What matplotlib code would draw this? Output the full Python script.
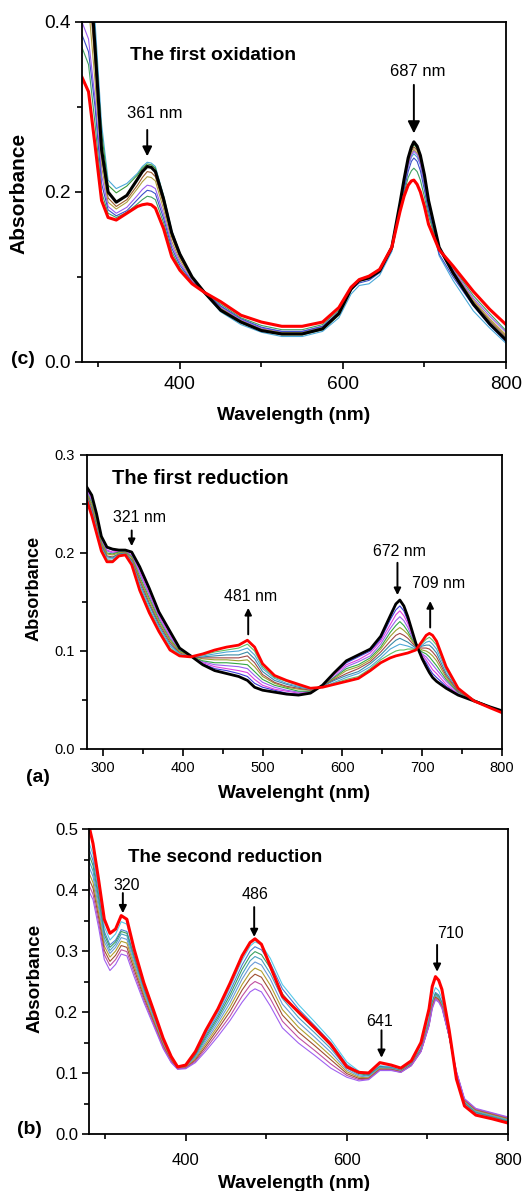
import matplotlib
matplotlib.use('Agg')
import matplotlib.pyplot as plt
from matplotlib.ticker import MultipleLocator, FormatStrFormatter

plt.rcParams['font.family'] = ['Liberation Sans', 'DejaVu Sans']

# ---------------- panel (c): the first oxidation ----------------
wl_ox = [280, 288, 296, 304, 312, 322, 335, 348, 354, 360, 365, 370, 380, 390, 400, 415, 430, 450, 475, 500,
         525, 550, 575, 595, 610, 620, 632, 645, 660, 670, 675, 680, 684, 687, 691, 695, 700, 705, 718, 735,
         760, 780, 800]
ox_black = [0.62, 0.48, 0.37, 0.25, 0.200, 0.188, 0.196, 0.215, 0.224, 0.230, 0.229, 0.224, 0.192, 0.152,
            0.127, 0.100, 0.082, 0.061, 0.047, 0.037, 0.033, 0.033, 0.039, 0.057, 0.086, 0.096, 0.099, 0.107,
            0.135, 0.187, 0.215, 0.240, 0.253, 0.259, 0.254, 0.243, 0.220, 0.190, 0.135, 0.105, 0.068, 0.045,
            0.026]
ox_red = [0.335, 0.318, 0.255, 0.190, 0.170, 0.167, 0.175, 0.183, 0.185, 0.186, 0.185, 0.181, 0.157, 0.124,
          0.108, 0.092, 0.082, 0.071, 0.055, 0.047, 0.042, 0.042, 0.047, 0.064, 0.088, 0.097, 0.101, 0.109,
          0.135, 0.177, 0.195, 0.208, 0.213, 0.214, 0.209, 0.200, 0.183, 0.162, 0.132, 0.113, 0.083, 0.062,
          0.044]
ox_c1 = [0.60, 0.50, 0.40, 0.28, 0.214, 0.204, 0.210, 0.222, 0.230, 0.235, 0.234, 0.230, 0.196, 0.155, 0.128,
         0.099, 0.081, 0.059, 0.044, 0.035, 0.030, 0.030, 0.036, 0.052, 0.080, 0.090, 0.092, 0.102, 0.130,
         0.180, 0.206, 0.230, 0.241, 0.245, 0.241, 0.232, 0.208, 0.180, 0.125, 0.096, 0.060, 0.040, 0.022]
ox_c2 = [0.56, 0.48, 0.38, 0.27, 0.208, 0.199, 0.207, 0.220, 0.228, 0.233, 0.232, 0.228, 0.195, 0.154, 0.128,
         0.100, 0.082, 0.060, 0.046, 0.037, 0.032, 0.032, 0.038, 0.055, 0.084, 0.095, 0.098, 0.106, 0.134,
         0.185, 0.212, 0.237, 0.250, 0.256, 0.251, 0.240, 0.215, 0.188, 0.133, 0.104, 0.067, 0.045, 0.027]
ox_c3 = [0.50, 0.45, 0.35, 0.24, 0.193, 0.183, 0.191, 0.208, 0.217, 0.224, 0.223, 0.218, 0.186, 0.147, 0.123,
         0.098, 0.083, 0.063, 0.048, 0.038, 0.034, 0.034, 0.040, 0.057, 0.086, 0.096, 0.099, 0.107, 0.135,
         0.185, 0.211, 0.235, 0.248, 0.253, 0.249, 0.238, 0.214, 0.188, 0.134, 0.107, 0.071, 0.049, 0.030]
ox_c4 = [0.46, 0.42, 0.33, 0.23, 0.188, 0.180, 0.188, 0.204, 0.212, 0.218, 0.217, 0.213, 0.180, 0.142, 0.120,
         0.097, 0.083, 0.064, 0.049, 0.039, 0.035, 0.035, 0.041, 0.058, 0.086, 0.096, 0.099, 0.107, 0.135,
         0.183, 0.208, 0.232, 0.245, 0.250, 0.246, 0.235, 0.211, 0.186, 0.134, 0.108, 0.073, 0.051, 0.032]
ox_c5 = [0.40, 0.38, 0.31, 0.22, 0.183, 0.175, 0.182, 0.196, 0.203, 0.208, 0.207, 0.204, 0.174, 0.138, 0.117,
         0.095, 0.083, 0.065, 0.050, 0.040, 0.036, 0.036, 0.042, 0.059, 0.087, 0.097, 0.100, 0.108, 0.135,
         0.182, 0.207, 0.230, 0.243, 0.248, 0.244, 0.233, 0.209, 0.184, 0.133, 0.109, 0.075, 0.054, 0.035]
ox_c6 = [0.385, 0.365, 0.30, 0.21, 0.179, 0.172, 0.178, 0.191, 0.197, 0.202, 0.201, 0.198, 0.169, 0.134, 0.114,
         0.094, 0.083, 0.066, 0.051, 0.041, 0.036, 0.036, 0.042, 0.058, 0.085, 0.093, 0.096, 0.105, 0.132,
         0.178, 0.202, 0.224, 0.236, 0.240, 0.236, 0.225, 0.202, 0.177, 0.127, 0.100, 0.066, 0.043, 0.024]
ox_c7 = [0.37, 0.35, 0.28, 0.20, 0.175, 0.170, 0.176, 0.186, 0.191, 0.195, 0.194, 0.191, 0.164, 0.130, 0.111,
         0.093, 0.083, 0.068, 0.052, 0.043, 0.038, 0.038, 0.044, 0.061, 0.087, 0.097, 0.100, 0.108, 0.135,
         0.180, 0.199, 0.217, 0.225, 0.228, 0.224, 0.214, 0.194, 0.172, 0.132, 0.111, 0.078, 0.057, 0.037]
ox_thin = [ox_c1, ox_c2, ox_c3, ox_c4, ox_c5, ox_c6, ox_c7]
ox_colors = ['#4aa8d8', '#3a9a3a', '#9a5a2a', '#b0a040', '#9a5cf0', '#3b4fc8', '#40a060']

# ---------------- panel (a): the first reduction ----------------
wl_r1 = [280, 286, 292, 298, 305, 312, 320, 328, 336, 346, 358, 370, 384, 396, 410, 425, 440, 455, 470, 481,
         490, 500, 515, 530, 545, 560, 575, 590, 605, 620, 635, 648, 660, 667, 672, 677, 682, 692, 700, 705,
         709, 713, 718, 730, 745, 765, 785, 800]
r1_black = [0.267, 0.259, 0.240, 0.217, 0.206, 0.204, 0.203, 0.203, 0.201, 0.186, 0.164, 0.140, 0.120, 0.103,
            0.095, 0.086, 0.080, 0.077, 0.074, 0.070, 0.063, 0.060, 0.058, 0.056, 0.055, 0.057, 0.065, 0.078,
            0.090, 0.096, 0.102, 0.115, 0.136, 0.148, 0.152, 0.146, 0.135, 0.108, 0.092, 0.084, 0.078, 0.073,
            0.069, 0.062, 0.055, 0.049, 0.043, 0.039]
r1_red = [0.253, 0.238, 0.220, 0.202, 0.191, 0.191, 0.197, 0.198, 0.188, 0.162, 0.139, 0.120, 0.101, 0.095,
          0.094, 0.097, 0.101, 0.104, 0.106, 0.111, 0.104, 0.087, 0.075, 0.070, 0.066, 0.062, 0.063, 0.066,
          0.069, 0.072, 0.080, 0.088, 0.093, 0.095, 0.096, 0.097, 0.098, 0.101, 0.110, 0.116, 0.118, 0.116,
          0.110, 0.084, 0.062, 0.049, 0.042, 0.037]
r1_t1 = [0.266, 0.257, 0.238, 0.216, 0.205, 0.203, 0.202, 0.203, 0.200, 0.184, 0.162, 0.138, 0.118, 0.102,
         0.095, 0.087, 0.082, 0.080, 0.077, 0.074, 0.067, 0.063, 0.060, 0.057, 0.056, 0.058, 0.065, 0.077,
         0.088, 0.094, 0.100, 0.112, 0.132, 0.142, 0.146, 0.141, 0.131, 0.107, 0.094, 0.088, 0.082, 0.077,
         0.073, 0.064, 0.056, 0.049, 0.043, 0.039]
r1_t2 = [0.264, 0.255, 0.236, 0.214, 0.203, 0.201, 0.202, 0.202, 0.198, 0.181, 0.159, 0.136, 0.116, 0.101,
         0.095, 0.088, 0.084, 0.082, 0.080, 0.078, 0.071, 0.065, 0.061, 0.059, 0.057, 0.058, 0.065, 0.076,
         0.086, 0.091, 0.098, 0.110, 0.127, 0.137, 0.141, 0.136, 0.128, 0.107, 0.096, 0.091, 0.086, 0.081,
         0.077, 0.066, 0.056, 0.049, 0.043, 0.039]
r1_t3 = [0.263, 0.253, 0.234, 0.213, 0.202, 0.200, 0.201, 0.202, 0.197, 0.179, 0.157, 0.134, 0.114, 0.101,
         0.095, 0.089, 0.086, 0.085, 0.084, 0.082, 0.075, 0.068, 0.063, 0.060, 0.058, 0.059, 0.064, 0.074,
         0.084, 0.089, 0.095, 0.107, 0.123, 0.131, 0.135, 0.131, 0.124, 0.106, 0.097, 0.094, 0.090, 0.086,
         0.081, 0.069, 0.057, 0.049, 0.043, 0.039]
r1_t4 = [0.261, 0.251, 0.232, 0.211, 0.200, 0.199, 0.201, 0.201, 0.196, 0.176, 0.154, 0.132, 0.112, 0.100,
         0.095, 0.090, 0.088, 0.088, 0.087, 0.086, 0.079, 0.071, 0.065, 0.062, 0.059, 0.059, 0.064, 0.073,
         0.082, 0.086, 0.093, 0.104, 0.119, 0.126, 0.130, 0.126, 0.120, 0.105, 0.099, 0.097, 0.094, 0.090,
         0.085, 0.071, 0.058, 0.050, 0.043, 0.038]
r1_t5 = [0.260, 0.249, 0.230, 0.210, 0.199, 0.198, 0.200, 0.201, 0.195, 0.174, 0.152, 0.130, 0.111, 0.099,
         0.095, 0.092, 0.091, 0.091, 0.090, 0.091, 0.084, 0.074, 0.067, 0.063, 0.061, 0.060, 0.064, 0.072,
         0.080, 0.084, 0.091, 0.102, 0.115, 0.121, 0.124, 0.121, 0.117, 0.105, 0.101, 0.100, 0.098, 0.095,
         0.090, 0.073, 0.059, 0.050, 0.043, 0.038]
r1_t6 = [0.259, 0.246, 0.228, 0.208, 0.197, 0.196, 0.199, 0.200, 0.193, 0.172, 0.149, 0.128, 0.109, 0.098,
         0.094, 0.093, 0.093, 0.093, 0.093, 0.095, 0.088, 0.076, 0.068, 0.064, 0.062, 0.060, 0.064, 0.071,
         0.077, 0.082, 0.089, 0.099, 0.110, 0.116, 0.118, 0.116, 0.113, 0.104, 0.103, 0.103, 0.102, 0.099,
         0.094, 0.075, 0.059, 0.050, 0.043, 0.038]
r1_t7 = [0.257, 0.244, 0.226, 0.207, 0.196, 0.195, 0.199, 0.200, 0.192, 0.169, 0.147, 0.126, 0.107, 0.097,
         0.094, 0.094, 0.095, 0.096, 0.096, 0.099, 0.092, 0.079, 0.070, 0.066, 0.063, 0.061, 0.064, 0.070,
         0.075, 0.079, 0.087, 0.096, 0.106, 0.111, 0.113, 0.111, 0.109, 0.103, 0.105, 0.106, 0.106, 0.103,
         0.098, 0.077, 0.060, 0.050, 0.043, 0.038]
r1_t8 = [0.256, 0.242, 0.224, 0.205, 0.194, 0.194, 0.198, 0.199, 0.191, 0.167, 0.144, 0.124, 0.105, 0.097,
         0.094, 0.095, 0.097, 0.099, 0.100, 0.103, 0.096, 0.082, 0.072, 0.067, 0.064, 0.061, 0.063, 0.068,
         0.073, 0.077, 0.084, 0.093, 0.102, 0.105, 0.107, 0.106, 0.105, 0.102, 0.106, 0.109, 0.110, 0.107,
         0.102, 0.080, 0.061, 0.050, 0.043, 0.038]
r1_t9 = [0.254, 0.240, 0.222, 0.204, 0.193, 0.192, 0.198, 0.199, 0.189, 0.164, 0.142, 0.122, 0.103, 0.096,
         0.094, 0.096, 0.099, 0.101, 0.103, 0.107, 0.100, 0.084, 0.073, 0.069, 0.065, 0.062, 0.063, 0.067,
         0.071, 0.074, 0.082, 0.091, 0.097, 0.100, 0.101, 0.101, 0.102, 0.102, 0.108, 0.112, 0.114, 0.111,
         0.106, 0.082, 0.061, 0.050, 0.043, 0.037]
r1_thin = [r1_t1, r1_t2, r1_t3, r1_t4, r1_t5, r1_t6, r1_t7, r1_t8, r1_t9]
r1_colors = ['#3a3ad8', '#e040e0', '#9a60f0', '#33a844', '#a0a030', '#a04848', '#3a8aa8', '#50a8d8', '#60c060']

# ---------------- panel (b): the second reduction ----------------
wl_r2 = [280, 285, 292, 299, 306, 313, 320, 327, 336, 348, 360, 372, 382, 390, 400, 412, 425, 440, 455, 470,
         480, 486, 494, 505, 520, 540, 560, 580, 600, 615, 627, 641, 655, 667, 680, 692, 702, 706, 710, 714,
         718, 727, 736, 746, 760, 780, 800]
r2_red = [0.505, 0.476, 0.416, 0.352, 0.329, 0.336, 0.358, 0.352, 0.303, 0.248, 0.203, 0.157, 0.127, 0.110,
          0.113, 0.135, 0.170, 0.205, 0.247, 0.292, 0.314, 0.320, 0.311, 0.275, 0.226, 0.200, 0.174, 0.147,
          0.110, 0.101, 0.100, 0.117, 0.113, 0.108, 0.120, 0.150, 0.205, 0.242, 0.258, 0.252, 0.237, 0.170,
          0.090, 0.046, 0.031, 0.025, 0.018]
r2_s1 = [0.478, 0.458, 0.400, 0.340, 0.318, 0.328, 0.348, 0.344, 0.298, 0.244, 0.199, 0.154, 0.125, 0.109,
         0.111, 0.132, 0.165, 0.199, 0.240, 0.285, 0.308, 0.315, 0.310, 0.288, 0.245, 0.212, 0.184, 0.155,
         0.118, 0.103, 0.098, 0.112, 0.110, 0.105, 0.117, 0.143, 0.192, 0.225, 0.240, 0.235, 0.222, 0.163,
         0.095, 0.050, 0.034, 0.027, 0.020]
r2_s2 = [0.468, 0.448, 0.392, 0.332, 0.310, 0.318, 0.335, 0.332, 0.292, 0.240, 0.196, 0.152, 0.124, 0.109,
         0.111, 0.130, 0.162, 0.195, 0.234, 0.277, 0.300, 0.307, 0.302, 0.280, 0.238, 0.205, 0.178, 0.150,
         0.114, 0.101, 0.097, 0.111, 0.109, 0.104, 0.116, 0.140, 0.186, 0.217, 0.232, 0.228, 0.216, 0.160,
         0.096, 0.051, 0.035, 0.028, 0.021]
r2_s3 = [0.458, 0.440, 0.385, 0.327, 0.306, 0.315, 0.332, 0.329, 0.289, 0.238, 0.194, 0.151, 0.123, 0.108,
         0.110, 0.129, 0.159, 0.191, 0.228, 0.270, 0.292, 0.299, 0.294, 0.272, 0.230, 0.198, 0.172, 0.145,
         0.111, 0.099, 0.096, 0.110, 0.108, 0.104, 0.115, 0.139, 0.184, 0.215, 0.230, 0.226, 0.214, 0.160,
         0.097, 0.052, 0.036, 0.029, 0.022]
r2_s4 = [0.448, 0.431, 0.378, 0.321, 0.301, 0.311, 0.328, 0.325, 0.286, 0.235, 0.192, 0.150, 0.122, 0.108,
         0.110, 0.127, 0.156, 0.187, 0.222, 0.262, 0.284, 0.291, 0.286, 0.263, 0.222, 0.191, 0.166, 0.140,
         0.108, 0.097, 0.095, 0.109, 0.108, 0.103, 0.114, 0.138, 0.183, 0.213, 0.228, 0.224, 0.213, 0.160,
         0.098, 0.053, 0.037, 0.030, 0.023]
r2_s5 = [0.438, 0.422, 0.370, 0.315, 0.296, 0.306, 0.322, 0.319, 0.281, 0.232, 0.190, 0.148, 0.121, 0.108,
         0.109, 0.125, 0.152, 0.182, 0.215, 0.254, 0.275, 0.282, 0.277, 0.254, 0.213, 0.183, 0.159, 0.134,
         0.105, 0.095, 0.093, 0.108, 0.107, 0.103, 0.114, 0.137, 0.181, 0.211, 0.226, 0.222, 0.211, 0.160,
         0.099, 0.054, 0.038, 0.031, 0.024]
r2_s6 = [0.428, 0.412, 0.362, 0.308, 0.290, 0.300, 0.316, 0.313, 0.276, 0.228, 0.187, 0.146, 0.120, 0.107,
         0.109, 0.123, 0.148, 0.177, 0.208, 0.245, 0.265, 0.272, 0.267, 0.244, 0.204, 0.175, 0.152, 0.128,
         0.102, 0.093, 0.092, 0.107, 0.106, 0.102, 0.113, 0.136, 0.180, 0.210, 0.225, 0.221, 0.210, 0.160,
         0.100, 0.055, 0.039, 0.032, 0.025]
r2_s7 = [0.418, 0.403, 0.354, 0.301, 0.283, 0.293, 0.309, 0.306, 0.270, 0.224, 0.184, 0.144, 0.119, 0.107,
         0.108, 0.121, 0.144, 0.172, 0.201, 0.236, 0.255, 0.262, 0.257, 0.234, 0.195, 0.167, 0.145, 0.122,
         0.099, 0.091, 0.091, 0.106, 0.106, 0.102, 0.113, 0.136, 0.179, 0.209, 0.224, 0.220, 0.209, 0.160,
         0.101, 0.056, 0.040, 0.033, 0.026]
r2_s8 = [0.408, 0.393, 0.346, 0.294, 0.276, 0.286, 0.302, 0.299, 0.264, 0.220, 0.181, 0.142, 0.118, 0.107,
         0.108, 0.119, 0.140, 0.166, 0.193, 0.226, 0.244, 0.250, 0.245, 0.222, 0.185, 0.158, 0.137, 0.115,
         0.096, 0.089, 0.090, 0.105, 0.105, 0.101, 0.112, 0.135, 0.178, 0.207, 0.222, 0.218, 0.208, 0.160,
         0.102, 0.057, 0.041, 0.034, 0.027]
r2_s9 = [0.398, 0.384, 0.338, 0.286, 0.268, 0.278, 0.295, 0.292, 0.258, 0.216, 0.178, 0.140, 0.117, 0.106,
         0.107, 0.117, 0.136, 0.160, 0.186, 0.216, 0.233, 0.238, 0.233, 0.210, 0.174, 0.149, 0.129, 0.108,
         0.093, 0.087, 0.089, 0.104, 0.104, 0.101, 0.112, 0.135, 0.177, 0.205, 0.220, 0.216, 0.206, 0.160,
         0.103, 0.058, 0.042, 0.035, 0.028]
r2_thin = [r2_s1, r2_s2, r2_s3, r2_s4, r2_s5, r2_s6, r2_s7, r2_s8, r2_s9]
r2_colors = ['#55c8e8', '#4a7fd0', '#3aa060', '#4aa0c0', '#6a9ad8', '#b0a030', '#a05030', '#c050a0', '#a060f0']

W, H = 523, 1191


def fpos(x, y):
    # pixel position (from top-left) -> figure fraction
    return x / W, 1 - y / H


def style_axes(ax, xmaj, xmin, ymaj, ymin, ytop, fs, xpad, ypad):
    ax.set_xlim(280, 800)
    ax.set_ylim(0, ytop)
    ax.xaxis.set_major_locator(MultipleLocator(xmaj))
    ax.xaxis.set_minor_locator(MultipleLocator(xmin))
    ax.yaxis.set_major_locator(MultipleLocator(ymaj))
    ax.yaxis.set_minor_locator(MultipleLocator(ymin))
    ax.yaxis.set_major_formatter(FormatStrFormatter('%.1f'))
    ax.tick_params(which='both', direction='out', top=False, right=False, width=1.2, labelsize=fs)
    ax.tick_params(axis='x', which='major', length=5, pad=xpad)
    ax.tick_params(axis='y', which='major', length=5, pad=ypad)
    ax.tick_params(which='minor', length=3.5)
    for s in ax.spines.values():
        s.set_linewidth(1.3)


def arrow(ax, x, y_tail, y_tip, scale):
    ax.annotate('', xy=(x, y_tip), xytext=(x, y_tail),
                arrowprops=dict(arrowstyle='-|>', color='black', lw=1.4, mutation_scale=scale,
                                shrinkA=0, shrinkB=0))


fig = plt.figure(figsize=(W / 100, H / 100), dpi=100)

# ---- panel (c) ----
ax1 = fig.add_axes([82 / W, 1 - 362 / H, 424 / W, 340 / H])
for vals, col in zip(ox_thin, ox_colors):
    ax1.plot(wl_ox, vals, color=col, lw=0.8)
ax1.plot(wl_ox, ox_black, color='black', lw=2.2)
ax1.plot(wl_ox, ox_red, color='red', lw=2.2)
style_axes(ax1, 200, 100, 0.2, 0.1, 0.4, 13.8, 5, 3)
ax1.text(0.113, 0.9, 'The first oxidation', transform=ax1.transAxes, fontsize=13.8, fontweight='bold',
         va='center', ha='left')
ax1.text(369, 0.292, '361 nm', fontsize=12, ha='center', va='center')
arrow(ax1, 360, 0.273, 0.242, 14)
ax1.text(692, 0.342, '687 nm', fontsize=12, ha='center', va='center')
arrow(ax1, 687, 0.326, 0.269, 18)
fig.text(*fpos(19, 193), 'Absorbance', rotation=90, fontsize=15, fontweight='bold', ha='center', va='center')
fig.text(*fpos(294, 415), 'Wavelength (nm)', fontsize=13.8, fontweight='bold', ha='center', va='center')
fig.text(*fpos(23, 360), '(c)', fontsize=14, fontweight='bold', ha='center', va='center')

# ---- panel (a) ----
ax2 = fig.add_axes([87 / W, 1 - 749 / H, 415 / W, 294 / H])
for vals, col in zip(r1_thin, r1_colors):
    ax2.plot(wl_r1, vals, color=col, lw=0.8)
ax2.plot(wl_r1, r1_black, color='black', lw=2.0)
ax2.plot(wl_r1, r1_red, color='red', lw=2.0)
style_axes(ax2, 100, 50, 0.1, 0.05, 0.3, 10.5, 4, 4)
ax2.text(0.06, 0.92, 'The first reduction', transform=ax2.transAxes, fontsize=14.5, fontweight='bold',
         va='center', ha='left')
ax2.text(346, 0.236, '321 nm', fontsize=11.4, ha='center', va='center')
arrow(ax2, 336, 0.223, 0.207, 10)
ax2.text(485, 0.156, '481 nm', fontsize=11.4, ha='center', va='center')
arrow(ax2, 482, 0.117, 0.144, 10)
ax2.text(671, 0.202, '672 nm', fontsize=11.4, ha='center', va='center')
arrow(ax2, 669, 0.190, 0.157, 10)
ax2.text(721, 0.169, '709 nm', fontsize=11.4, ha='center', va='center')
arrow(ax2, 710, 0.124, 0.151, 10)
fig.text(*fpos(34, 588), 'Absorbance', rotation=90, fontsize=13.1, fontweight='bold', ha='center', va='center')
fig.text(*fpos(294, 793), 'Wavelenght (nm)', fontsize=13.7, fontweight='bold', ha='center', va='center')
fig.text(*fpos(38, 777), '(a)', fontsize=14, fontweight='bold', ha='center', va='center')

# ---- panel (b) ----
ax3 = fig.add_axes([89 / W, 1 - 1134 / H, 419 / W, 305 / H])
for vals, col in zip(r2_thin, r2_colors):
    ax3.plot(wl_r2, vals, color=col, lw=0.8)
ax3.plot(wl_r2, r2_red, color='red', lw=2.2)
style_axes(ax3, 200, 100, 0.1, 0.05, 0.5, 12, 9, 3)
ax3.text(0.093, 0.905, 'The second reduction', transform=ax3.transAxes, fontsize=13.5, fontweight='bold',
         va='center', ha='left')
ax3.text(327, 0.408, '320', fontsize=11.5, ha='center', va='center')
arrow(ax3, 322, 0.395, 0.362, 11)
ax3.text(486, 0.392, '486', fontsize=11.5, ha='center', va='center')
arrow(ax3, 485, 0.372, 0.323, 11)
ax3.text(641, 0.184, '641', fontsize=11.5, ha='center', va='center')
arrow(ax3, 643, 0.170, 0.125, 11)
ax3.text(728, 0.328, '710', fontsize=11.5, ha='center', va='center')
arrow(ax3, 712, 0.310, 0.266, 11)
fig.text(*fpos(35, 978), 'Absorbance', rotation=90, fontsize=13.6, fontweight='bold', ha='center', va='center')
fig.text(*fpos(294, 1183), 'Wavelength (nm)', fontsize=13.7, fontweight='bold', ha='center', va='center')
fig.text(*fpos(29, 1130), '(b)', fontsize=14, fontweight='bold', ha='center', va='center')

fig.savefig('out.png', dpi=100)
